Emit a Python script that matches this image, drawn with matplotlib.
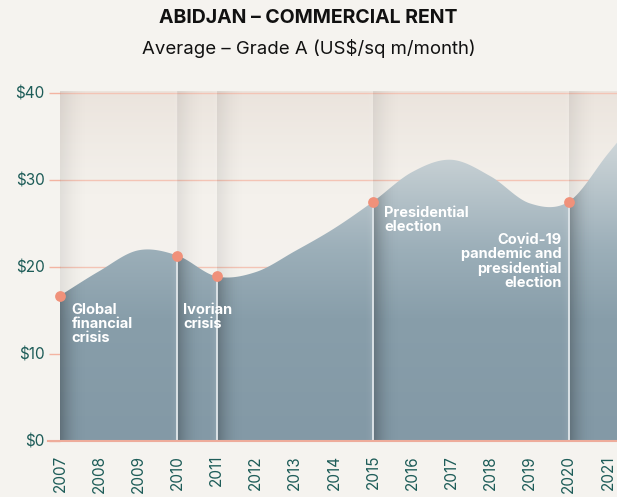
import numpy as np
import matplotlib.pyplot as plt
from matplotlib.colors import LinearSegmentedColormap

plt.rcParams['font.family'] = ['Inter', 'DejaVu Sans']

# rent curve (US$/sq m/month) read at each year
years = [2007, 2008, 2009, 2010, 2011, 2012, 2013, 2014, 2015, 2016, 2017, 2018, 2019, 2020, 2021]
rent = [16.7, 19.5, 21.9, 21.3, 18.9, 19.4, 21.8, 24.4, 27.5, 30.9, 32.3, 30.4, 27.3, 27.5, 33.0]

# events marked on the curve
event_years = [2007, 2010, 2011, 2015, 2020]
event_values = [16.7, 21.3, 18.9, 27.5, 27.5]
event_labels = ["Global\nfinancial\ncrisis", "Ivorian\ncrisis", "", "Presidential\nelection",
                "Covid-19\npandemic and\npresidential\nelection"]

yticks = [0, 10, 20, 30, 40]
ytick_labels = ["$0", "$10", "$20", "$30", "$40"]

XMAX = 2021.23
TEAL = "#1d5c58"
SALMON = "#f0917a"


def hermite(xs, ys, xmax, n=60):
    # smooth curve through the yearly points (rendering only)
    xs = np.asarray(xs, float)
    ys = np.asarray(ys, float)
    m = np.gradient(ys, xs)
    out_x, out_y = [], []
    for i in range(len(xs) - 1):
        h = xs[i + 1] - xs[i]
        t = np.linspace(0, 1, n, endpoint=False)
        h00 = 2 * t**3 - 3 * t**2 + 1
        h10 = t**3 - 2 * t**2 + t
        h01 = -2 * t**3 + 3 * t**2
        h11 = t**3 - t**2
        out_x.append(xs[i] + t * h)
        out_y.append(h00 * ys[i] + h10 * h * m[i] + h01 * ys[i + 1] + h11 * h * m[i + 1])
    tail = np.linspace(xs[-1], xmax, 10)
    out_x.append(tail)
    out_y.append(ys[-1] + m[-1] * (tail - xs[-1]))
    return np.concatenate(out_x), np.concatenate(out_y)


cx, cy = hermite(years, rent, XMAX)

fig = plt.figure(figsize=(6.17, 4.97), dpi=100)
fig.patch.set_facecolor("#f5f3ef")
ax = fig.add_axes([60 / 617, 56 / 497, 557 / 617, 350 / 497])
ax.set_xlim(2007, XMAX)
ax.set_ylim(0, 40.2)
ax.set_facecolor("#f5f3ef")

# background gradient (beige at the top)
bg_cmap = LinearSegmentedColormap.from_list("bg", ["#f5f3ef", "#f4f1ec", "#ebe4dd"])
grad = np.linspace(0, 1, 256).reshape(-1, 1) ** 2
ax.imshow(grad, cmap=bg_cmap, extent=[2007, XMAX, 0, 40.2], origin="lower",
          aspect="auto", zorder=0)

# grid
for v in yticks[1:]:
    ax.axhline(v, color="#f3c4b5", lw=1, zorder=1)

# area fill with vertical gradient
fill_cmap = LinearSegmentedColormap.from_list(
    "fill", [(0, "#8399a6"), (0.35, "#889eaa"), (0.55, "#9cafb9"), (0.85, "#cdd5d8"), (1, "#d6dcdd")])
fgrad = np.linspace(0, 1, 256).reshape(-1, 1)
poly = ax.fill_between(cx, 0, cy, color="none", lw=0)
clip = poly.get_paths()[0]
img = ax.imshow(fgrad, cmap=fill_cmap, extent=[2007, XMAX, 0, 40.2], origin="lower",
                aspect="auto", zorder=2)
img.set_clip_path(clip, transform=ax.transData)

# folded panels: shadow to the right of each event line
sh = np.linspace(1, 0, 100)
for e in event_years:
    rgba = np.zeros((1, 100, 4))
    rgba[..., 3] = 0.08 * sh ** 2
    ax.imshow(rgba, extent=[e, e + 0.8, 0, 40.2], aspect="auto", zorder=3)
    rgba2 = np.zeros((1, 100, 4))
    rgba2[..., 3] = 0.20 * sh ** 2.2
    im2 = ax.imshow(rgba2, extent=[e, e + 0.6, 0, 40.2], aspect="auto", zorder=3)
    im2.set_clip_path(clip, transform=ax.transData)
    if e > years[0]:
        hl = np.ones((1, 50, 4))
        hl[..., 3] = 0.10 * np.linspace(0, 1, 50) ** 2
        ax.imshow(hl, extent=[e - 0.25, e, 0, 40.2], aspect="auto", zorder=3)

for e, v in zip(event_years, event_values):
    if e > years[0]:
        ax.plot([e, e], [0, v], color="#dbe2e6", lw=1.4, zorder=4, solid_capstyle="butt")
ax.scatter(event_years, event_values, s=60, color=SALMON, zorder=6, lw=0, clip_on=False)

# event labels
txt = dict(color="white", fontsize=10.5, fontweight="bold", linespacing=1.0, zorder=7, va="top")
ax.text(2007.3, 15.9, event_labels[0], ha="left", **txt)
ax.text(2010.15, 15.9, event_labels[1], ha="left", **txt)
ax.text(2015.28, 27.0, event_labels[3], ha="left", **txt)
ax.text(2019.82, 23.9, event_labels[4], ha="right", multialignment="right", **txt)

# axes styling
for s in ax.spines.values():
    s.set_visible(False)
ax.axhline(0, color="#eeac9b", lw=1.5, zorder=5, xmin=-0.022, clip_on=False)
ax.set_yticks(yticks)
ax.set_yticklabels(ytick_labels)
ax.tick_params(axis="y", length=8, width=1, color="#f3b4a2", pad=3, labelsize=11, labelcolor=TEAL)
ax.set_xticks(years)
ax.set_xticklabels([str(y) for y in years], rotation=90)
ax.tick_params(axis="x", length=0, pad=10, labelsize=11, labelcolor=TEAL)

fig.text(0.5, 1 - 18 / 497, "ABIDJAN – COMMERCIAL RENT", ha="center", va="center",
         fontsize=14, fontweight="bold", color="#111111")
fig.text(0.5, 1 - 49 / 497, "Average – Grade A (US$/sq m/month)", ha="center", va="center",
         fontsize=13.4, color="#111111")

fig.savefig("out.png", dpi=100, facecolor=fig.get_facecolor())
